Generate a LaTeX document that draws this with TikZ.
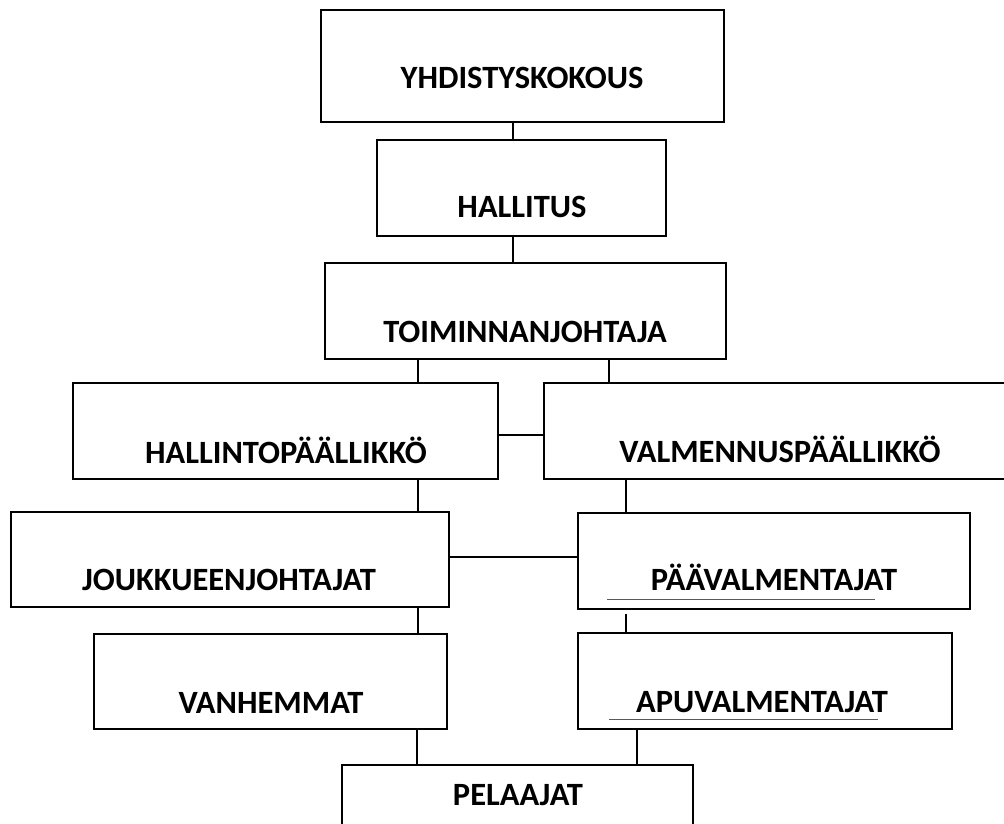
\documentclass[tikz,border=0pt]{standalone}
\usepackage{fontspec}
\setmainfont{Carlito}
\begin{document}
\begin{tikzpicture}[x=1pt,y=-1pt,
  box/.style={draw=black, line width=1.6pt, inner sep=0pt, minimum width=#1},
  lbl/.style={anchor=base, inner sep=0pt, font=\fontsize{32.5}{39}\selectfont\bfseries},
  conn/.style={draw=black, line width=1.2pt},
  uline/.style={draw=black!65, line width=0.9pt}]
\clip (0,0) rectangle (1004,824);
\fill[white] (0,0) rectangle (1004,824);
% boxes
\node[box=403, minimum height=112] (yk) at (522.5,66) {};
\node[box=289, minimum height=96] (hal) at (521.5,188) {};
\node[box=401, minimum height=96] (toim) at (525.5,311) {};
\node[box=425, minimum height=96] (hp) at (285.5,431) {};
\node[box=476, minimum height=96] (vp) at (782,431) {};
\node[box=438, minimum height=95] (jj) at (230,559.5) {};
\node[box=392, minimum height=96] (pv) at (774,561) {};
\node[box=353, minimum height=95] (va) at (270.5,681.5) {};
\node[box=374, minimum height=96] (ap) at (765,681) {};
\node[box=351, minimum height=85] (pe) at (517.5,807.5) {};
% texts
\node[lbl] (tyk) at (522,89) {YHDISTYSKOKOUS};
\node[lbl] (thal) at (522,217) {HALLITUS};
\node[lbl] (ttoim) at (525,342) {TOIMINNANJOHTAJA};
\node[lbl] (thp) at (286,463) {HALLINTOPÄÄLLIKKÖ};
\node[lbl] (tvp) at (780,462) {VALMENNUSPÄÄLLIKKÖ};
\node[lbl] (tjj) at (229,590) {JOUKKUEENJOHTAJAT};
\node[lbl] (tpv) at (774,590) {PÄÄVALMENTAJAT};
\node[lbl] (tva) at (271,713) {VANHEMMAT};
\node[lbl] (tap) at (762,712) {APUVALMENTAJAT};
\node[lbl] (tpe) at (518,805) {PELAAJAT};
% underlines
\draw[uline] (607,599) -- (875,599);
\draw[uline] (609,719) -- (878,719);
% connectors
\draw[conn] ([xshift=-9.5pt]yk.south) -- ([xshift=-8.5pt]hal.north);
\draw[conn] ([xshift=-8.5pt]hal.south) -- ([xshift=-12.5pt]toim.north);
\draw[conn] ([xshift=-107.5pt]toim.south) -- ([xshift=132.5pt]hp.north);
\draw[conn] ([xshift=83.5pt]toim.south) -- ([xshift=-173pt]vp.north);
\draw[conn] ([yshift=-4pt]hp.east) -- ([yshift=-4pt]vp.west);
\draw[conn] ([xshift=132.5pt]hp.south) -- ([xshift=188pt]jj.north);
\draw[conn] ([xshift=-156pt]vp.south) -- ([xshift=-148pt]pv.north);
\draw[conn] ([yshift=2.5pt]jj.east) -- ([yshift=4pt]pv.west);
\draw[conn] ([xshift=188pt]jj.south) -- ([xshift=147.5pt]va.north);
\draw[conn] ([xshift=-148pt,yshift=-4pt]pv.south) -- ([xshift=-139pt]ap.north);
\draw[conn] ([xshift=146.5pt]va.south) -- ([xshift=-100.5pt]pe.north);
\draw[conn] ([xshift=-128pt]ap.south) -- ([xshift=119.5pt]pe.north);
\end{tikzpicture}
\end{document}
